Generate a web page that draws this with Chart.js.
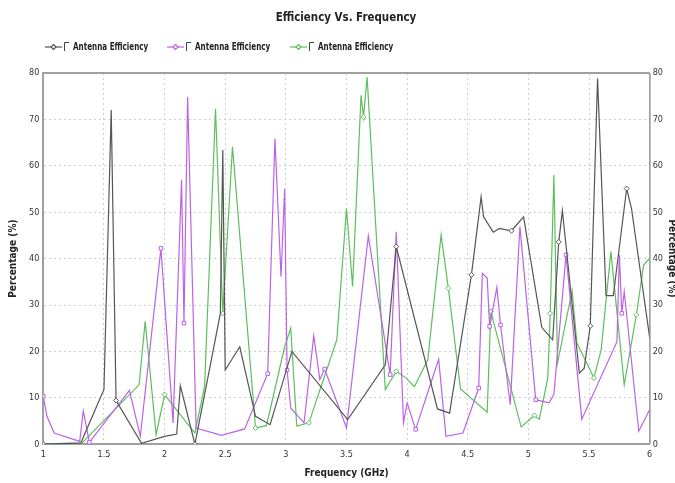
<!DOCTYPE html>
<html>
<head>
<meta charset="utf-8">
<script src="https://cdn.jsdelivr.net/npm/chart.js@4"></script>
<style>
  html, body { margin: 0; padding: 0; background: #fff; }
  #wrap { width: 675px; height: 483px; }
</style>
</head>
<body>
<div id="wrap"><canvas id="effChart" width="675" height="483"></canvas></div>
<script>
const FONT = '"Liberation Sans Narrow", "DejaVu Sans Condensed", sans-serif';
const chartTitle = "Efficiency Vs. Frequency";
const seriesLabels = ["Antenna Efficiency", "Antenna Efficiency", "Antenna Efficiency"];
const xTitle = "Frequency (GHz)";
const yTitle = "Percentage (%)";

// black series
const blackFreq = [1.0, 1.31, 1.5, 1.56, 1.6, 1.81, 2.0, 2.1, 2.13, 2.25, 2.46, 2.48, 2.5, 2.62, 2.75, 2.87, 3.05, 3.51, 3.82, 3.91, 4.25, 4.35, 4.53, 4.61, 4.63, 4.71, 4.76, 4.86, 4.96, 5.11, 5.2, 5.25, 5.28, 5.42, 5.46, 5.51, 5.57, 5.64, 5.7, 5.81, 5.85, 6.0];
const blackEff = [0, 0.3, 11.8, 72, 9.4, 0.2, 1.7, 2.2, 12.6, 0, 28.2, 63.4, 16, 21, 6, 4.2, 20, 5.3, 17.1, 42.6, 7.6, 6.7, 36.5, 53.3, 49, 45.7, 46.5, 46, 49, 25.2, 22.5, 43.6, 50.3, 15.3, 16.4, 25.5, 78.8, 32, 32, 55.1, 50.8, 22.9];

// purple series
const purpleFreq = [1.0, 1.03, 1.09, 1.3, 1.33, 1.38, 1.71, 1.8, 1.97, 2.07, 2.14, 2.16, 2.19, 2.26, 2.47, 2.66, 2.85, 2.91, 2.96, 2.99, 3.01, 3.04, 3.15, 3.23, 3.28, 3.32, 3.5, 3.68, 3.86, 3.91, 3.97, 4.0, 4.07, 4.26, 4.32, 4.46, 4.59, 4.62, 4.66, 4.68, 4.74, 4.77, 4.85, 4.93, 5.06, 5.17, 5.21, 5.31, 5.44, 5.73, 5.75, 5.77, 5.79, 5.91, 6.0];
const purpleEff = [10.3, 6, 2.4, 0.6, 7.2, 0.4, 11.6, 1.7, 42.2, 4.6, 57, 26.1, 74.8, 3.5, 1.9, 3.3, 15.2, 65.9, 36.1, 55, 16, 7.8, 4.6, 23.4, 13.9, 16.2, 3.5, 44.9, 15, 45.8, 4.6, 8.9, 3.2, 18.3, 1.7, 2.4, 12.1, 36.8, 35.8, 25.4, 33.8, 25.7, 8.5, 46.9, 9.6, 8.9, 10.7, 40.8, 5.4, 22.1, 40.8, 28.2, 32.9, 2.8, 7.5];

// green series
const greenFreq = [1.0, 1.31, 1.79, 1.84, 1.93, 2.0, 2.25, 2.33, 2.42, 2.48, 2.56, 2.75, 2.84, 2.99, 3.04, 3.09, 3.19, 3.42, 3.5, 3.55, 3.62, 3.64, 3.67, 3.82, 3.91, 3.99, 4.06, 4.17, 4.28, 4.34, 4.44, 4.66, 4.69, 4.94, 5.05, 5.09, 5.16, 5.18, 5.21, 5.24, 5.36, 5.4, 5.54, 5.6, 5.68, 5.79, 5.89, 5.95, 6.0];
const greenEff = [0, 0, 12.8, 26.5, 2.1, 10.7, 2.4, 12.5, 72.3, 28.2, 64.1, 3.5, 4, 21, 25, 3.9, 4.6, 22.5, 50.8, 34, 75.2, 70.5, 79.1, 11.8, 15.7, 14.3, 12.4, 18.2, 45.1, 33.6, 11.9, 6.9, 28.6, 3.7, 6.2, 5.4, 14.3, 28.2, 58, 17.5, 33.1, 21.8, 14.3, 20.4, 41.5, 12.8, 27.9, 38.6, 40.1];

const xTicks = [1, 1.5, 2, 2.5, 3, 3.5, 4, 4.5, 5, 5.5, 6];
const yTicks = [0, 10, 20, 30, 40, 50, 60, 70, 80];

// build {x, y} points for a scatter line
function toPoints(freqs, vals) {
  return freqs.map((f, i) => ({ x: f, y: vals[i] }));
}

// small markers only on some points, like the original plot
function markerRadius(marked) {
  return ctx => (marked.includes(ctx.dataIndex) ? 2.5 : 0);
}

const datasets = [
  {
    label: seriesLabels[0],
    data: toPoints(blackFreq, blackEff),
    borderColor: "#555555",
    pointStyle: "rectRot",
    markers: [0, 4, 9, 19, 22, 27, 31, 35, 39]
  },
  {
    label: seriesLabels[1],
    data: toPoints(purpleFreq, purpleEff),
    borderColor: "#bd62e6",
    pointStyle: "rect",
    markers: [0, 5, 8, 11, 16, 20, 25, 28, 32, 36, 39, 41, 44, 47, 51]
  },
  {
    label: seriesLabels[2],
    data: toPoints(greenFreq, greenEff),
    borderColor: "#5cbf5c",
    pointStyle: "rectRot",
    markers: [0, 5, 9, 11, 16, 21, 24, 29, 32, 34, 37, 42, 46]
  }
].map(ds => ({
  label: ds.label,
  data: ds.data,
  showLine: true,
  borderColor: ds.borderColor,
  backgroundColor: "#ffffff",
  borderWidth: 1.2,
  tension: 0,
  pointStyle: ds.pointStyle,
  pointRadius: markerRadius(ds.markers),
  pointBorderColor: ds.borderColor,
  pointBorderWidth: 1,
  pointHoverRadius: 0
}));

// title, legend and frame drawn by hand
const headerPlugin = {
  id: "header",
  afterDraw(chart) {
    const ctx = chart.ctx;
    const area = chart.chartArea;
    ctx.save();

    // frame top + right
    ctx.strokeStyle = "#a0a0a0";
    ctx.lineWidth = 2;
    ctx.beginPath();
    ctx.moveTo(area.left, area.top);
    ctx.lineTo(area.right, area.top);
    ctx.stroke();
    ctx.lineWidth = 1;
    ctx.beginPath();
    ctx.moveTo(area.right + 0.5, area.top);
    ctx.lineTo(area.right + 0.5, area.bottom);
    ctx.stroke();

    // title
    ctx.fillStyle = "#222";
    ctx.textBaseline = "middle";
    ctx.font = "bold 13px " + FONT;
    ctx.save();
    ctx.translate(346, 18);
    ctx.scale(0.88, 1);
    ctx.textAlign = "center";
    ctx.fillText(chartTitle, 0, 0);
    ctx.restore();

    // legend
    const legendX = [45, 167, 290];
    const ly = 47;
    chart.data.datasets.forEach((ds, i) => {
      const x = legendX[i];
      ctx.strokeStyle = ds.borderColor;
      ctx.lineWidth = 1.2;
      ctx.beginPath();
      ctx.moveTo(x, ly);
      ctx.lineTo(x + 17, ly);
      ctx.stroke();
      ctx.fillStyle = "#fff";
      ctx.beginPath();
      ctx.moveTo(x + 8.5, ly - 2.5);
      ctx.lineTo(x + 11, ly);
      ctx.lineTo(x + 8.5, ly + 2.5);
      ctx.lineTo(x + 6, ly);
      ctx.closePath();
      ctx.fill();
      ctx.stroke();
      // checkbox corner
      ctx.strokeStyle = "#444";
      ctx.lineWidth = 1;
      ctx.beginPath();
      ctx.moveTo(x + 19.5, ly + 4);
      ctx.lineTo(x + 19.5, ly - 4.5);
      ctx.lineTo(x + 24, ly - 4.5);
      ctx.stroke();
      ctx.fillStyle = "#222";
      ctx.font = "bold 10px " + FONT;
      ctx.save();
      ctx.translate(x + 28, ly);
      ctx.scale(0.8, 1);
      ctx.textAlign = "left";
      ctx.fillText(ds.label, 0, 0);
      ctx.restore();
    });
    ctx.restore();
  }
};

const gridStyle = {
  color: "#cfcfcf",
  lineWidth: 1,
  drawTicks: false
};
const tickFont = { family: FONT, size: 9 };
const axisTitleFont = { family: FONT, size: 10, weight: "bold" };

new Chart(document.getElementById("effChart").getContext("2d"), {
  type: "scatter",
  data: { datasets: datasets },
  options: {
    responsive: false,
    animation: false,
    layout: { padding: { top: 73, left: 7, right: -4, bottom: 4 } },
    plugins: {
      legend: { display: false },
      title: { display: false },
      tooltip: { enabled: false }
    },
    scales: {
      x: {
        type: "linear",
        min: 1,
        max: 6,
        afterBuildTicks: axis => { axis.ticks = xTicks.map(v => ({ value: v })); },
        ticks: { color: "#333", font: tickFont, padding: 5, maxRotation: 0, callback: v => String(v) },
        grid: gridStyle,
        border: { color: "#a0a0a0", width: 2, dash: [2, 3] },
        title: { display: true, text: xTitle, color: "#222", font: axisTitleFont, padding: { top: 2, bottom: 0 } }
      },
      y: {
        position: "left",
        min: 0,
        max: 80,
        afterBuildTicks: axis => { axis.ticks = yTicks.map(v => ({ value: v })); },
        ticks: { color: "#333", font: tickFont, padding: 4 },
        grid: gridStyle,
        border: { color: "#a0a0a0", width: 2, dash: [2, 3] },
        title: { display: true, text: yTitle, color: "#222", font: axisTitleFont, padding: { top: 0, bottom: 6 } }
      },
      y2: {
        position: "right",
        min: 0,
        max: 80,
        afterBuildTicks: axis => { axis.ticks = yTicks.map(v => ({ value: v })); },
        ticks: { color: "#333", font: tickFont, padding: 3 },
        grid: { drawOnChartArea: false, drawTicks: false },
        border: { color: "#a0a0a0", width: 1 },
        title: { display: true, text: yTitle, color: "#222", font: axisTitleFont, padding: { top: 1, bottom: 0 } }
      }
    }
  },
  plugins: [headerPlugin]
});
</script>
</body>
</html>
